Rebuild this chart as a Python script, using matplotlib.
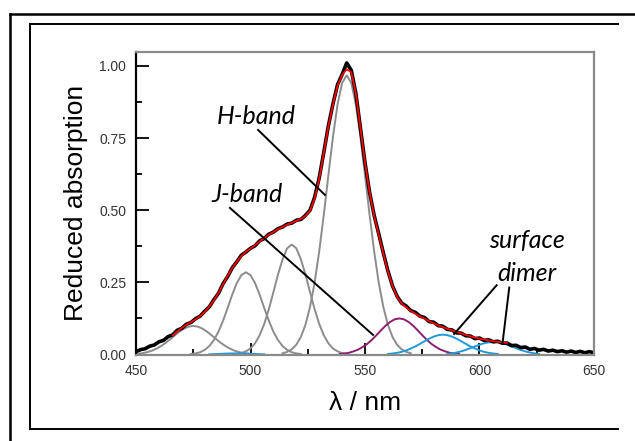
import matplotlib.pyplot as plt
from matplotlib.lines import Line2D
from matplotlib.ticker import MultipleLocator

# measured spectrum (black), read every 2 nm
wl = list(range(450, 652, 2))
absorb = [0.010, 0.017, 0.020, 0.029, 0.033, 0.044, 0.049, 0.062, 0.068, 0.084,
          0.091, 0.105, 0.111, 0.124, 0.133, 0.150, 0.165, 0.190, 0.212, 0.245,
          0.270, 0.300, 0.321, 0.344, 0.355, 0.368, 0.377, 0.394, 0.402, 0.417,
          0.424, 0.436, 0.442, 0.452, 0.455, 0.465, 0.468, 0.482, 0.500, 0.545,
          0.612, 0.700, 0.792, 0.868, 0.935, 0.970, 1.010, 0.985, 0.905, 0.785,
          0.665, 0.562, 0.482, 0.418, 0.352, 0.290, 0.238, 0.202, 0.178, 0.168,
          0.152, 0.146, 0.133, 0.128, 0.114, 0.112, 0.100, 0.098, 0.087, 0.085,
          0.075, 0.074, 0.065, 0.064, 0.055, 0.057, 0.049, 0.051, 0.044, 0.046,
          0.039, 0.040, 0.031, 0.032, 0.024, 0.026, 0.018, 0.021, 0.015, 0.018,
          0.012, 0.015, 0.010, 0.013, 0.008, 0.012, 0.007, 0.011, 0.006, 0.010,
          0.006]

# fitted sum (red)
fit_wl = list(range(466, 614, 2))
fit = [0.066, 0.080, 0.092, 0.103, 0.112, 0.122, 0.133, 0.148, 0.166, 0.188,
       0.213, 0.243, 0.272, 0.299, 0.321, 0.341, 0.356, 0.367, 0.379, 0.392,
       0.403, 0.415, 0.424, 0.434, 0.442, 0.450, 0.456, 0.463, 0.470, 0.480,
       0.498, 0.540, 0.608, 0.698, 0.790, 0.866, 0.930, 0.968, 0.988, 0.978,
       0.905, 0.785, 0.665, 0.563, 0.480, 0.415, 0.350, 0.288, 0.237, 0.200,
       0.177, 0.163, 0.151, 0.141, 0.132, 0.124, 0.116, 0.108, 0.101, 0.095,
       0.089, 0.084, 0.078, 0.073, 0.068, 0.063, 0.059, 0.055, 0.052, 0.049,
       0.046, 0.044, 0.042, 0.040]

# fit components
g1_wl = list(range(451, 501, 2))
g1 = [0.0028, 0.005, 0.0084, 0.0134, 0.0204, 0.0295, 0.0407, 0.0534, 0.0667, 0.0793,
      0.0897, 0.0966, 0.099, 0.0966, 0.0897, 0.0793, 0.0667, 0.0534, 0.0407, 0.0295,
      0.0204, 0.0134, 0.0084, 0.005, 0.0028]
g2_wl = list(range(474, 524, 2))
g2 = [0.0017, 0.0039, 0.008, 0.016, 0.0293, 0.050, 0.079, 0.117, 0.161, 0.207,
      0.247, 0.275, 0.285, 0.275, 0.247, 0.207, 0.161, 0.117, 0.079, 0.050,
      0.0293, 0.016, 0.008, 0.0039, 0.0017]
g3_wl = list(range(494, 544, 2))
g3 = [0.002, 0.005, 0.011, 0.021, 0.039, 0.067, 0.106, 0.157, 0.216, 0.277,
      0.330, 0.368, 0.381, 0.368, 0.330, 0.277, 0.216, 0.157, 0.106, 0.067,
      0.039, 0.021, 0.011, 0.005, 0.002]
g4_wl = list(range(514, 572, 2))
g4 = [0.0043, 0.009, 0.018, 0.034, 0.061, 0.103, 0.165, 0.249, 0.357, 0.484,
      0.621, 0.754, 0.866, 0.941, 0.967, 0.941, 0.866, 0.754, 0.621, 0.484,
      0.357, 0.249, 0.165, 0.103, 0.061, 0.034, 0.018, 0.009, 0.0043]
pu_wl = list(range(539, 593, 2))
pu = [0.0019, 0.0036, 0.006, 0.011, 0.017, 0.026, 0.037, 0.051, 0.067, 0.084,
      0.100, 0.113, 0.122, 0.125, 0.122, 0.113, 0.100, 0.084, 0.067, 0.051,
      0.037, 0.026, 0.017, 0.011, 0.006, 0.0036, 0.0019]
b0_wl = [482, 486, 490, 494, 498, 502, 506]
b0 = [0.0006, 0.002, 0.0035, 0.004, 0.0035, 0.002, 0.0006]
b1_wl = list(range(560, 610, 2))
b1 = [0.002, 0.0035, 0.0058, 0.0093, 0.014, 0.021, 0.028, 0.037, 0.046, 0.055,
      0.062, 0.067, 0.069, 0.067, 0.062, 0.055, 0.046, 0.037, 0.028, 0.021,
      0.014, 0.0093, 0.0058, 0.0035, 0.002]
b2_wl = list(range(586, 628, 2))
b2 = [0.002, 0.004, 0.007, 0.011, 0.016, 0.022, 0.028, 0.034, 0.039, 0.042,
      0.043, 0.042, 0.039, 0.034, 0.028, 0.022, 0.016, 0.011, 0.007, 0.004, 0.002]

fig = plt.figure(figsize=(6.35, 4.41), dpi=100)
ax = fig.add_axes([0.2142, 0.1961, 0.7212, 0.6860])

grey = '#8c8c8c'
for x, y in [(g1_wl, g1), (g2_wl, g2), (g3_wl, g3), (g4_wl, g4)]:
    ax.plot(x, y, color=grey, lw=1.4)
ax.plot(pu_wl, pu, color='#8b1f6e', lw=1.4)
for x, y in [(b0_wl, b0), (b1_wl, b1), (b2_wl, b2)]:
    ax.plot(x, y, color='#2299d8', lw=1.4)

ax.plot(wl, absorb, color='black', lw=2.6)
ax.plot(fit_wl, fit, color='#ff0000', lw=1.3)

# leader lines
ax.plot([503.3, 532.5], [0.778, 0.553], color='black', lw=1.4)
ax.plot([491, 553.5], [0.508, 0.068], color='black', lw=1.4)
ax.plot([607.5, 588.9], [0.24, 0.071], color='black', lw=1.4)
ax.plot([613, 610.1], [0.232, 0.042], color='black', lw=1.4)

tf = dict(family=['Lato', 'DejaVu Sans'], style='italic', fontsize=18, ha='center', va='center')
ax.text(502.4, 0.825, 'H-band', **tf)
ax.text(498.5, 0.555, 'J-band', **tf)
ax.text(620.7, 0.395, 'surface', **tf)
ax.text(620.7, 0.282, 'dimer', **tf)

ax.set_xlim(450, 650)
ax.set_ylim(0, 1.048)
ax.set_xticks([450, 500, 550, 600, 650])
ax.set_yticks([0, 0.25, 0.5, 0.75, 1.0])
ax.set_yticklabels(['0.00', '0.25', '0.50', '0.75', '1.00'])
ax.xaxis.set_minor_locator(MultipleLocator(25))
ax.yaxis.set_minor_locator(MultipleLocator(0.125))
ax.tick_params(which='major', direction='in', length=9, width=1.3, top=False, right=False,
               labelsize=10, labelcolor='#333333')
ax.tick_params(which='minor', direction='in', length=4, width=1.3, top=False, right=False)
ax.tick_params(axis='y', pad=7)
ax.tick_params(axis='x', pad=7)
for lab in ax.get_xticklabels() + ax.get_yticklabels():
    lab.set_family(['Liberation Sans'])

for s in ['top', 'right', 'bottom']:
    ax.spines[s].set_color('#8a8a8a')
    ax.spines[s].set_linewidth(1.6)
ax.spines['left'].set_color('black')
ax.spines['left'].set_linewidth(1.6)

ax.set_ylabel('Reduced absorption', fontsize=19, family='Liberation Sans', labelpad=8)
ax.set_xlabel('λ / nm', fontsize=19, family='Liberation Sans', labelpad=9)

# frames around the picture
W, H = 635.0, 441.0
def fline(x0, y0, x1, y1, lw):
    fig.add_artist(Line2D([x0 / W, x1 / W], [1 - y0 / H, 1 - y1 / H], color='black', lw=lw))
fline(9.5, 13.5, 635, 13.5, 1.8)
fline(9.5, 13.5, 9.5, 441, 1.8)
fline(30, 24, 618, 24, 1.4)
fline(30, 24, 30, 429, 1.4)
fline(30, 429, 618, 429, 1.4)

fig.savefig('out.png', dpi=100)
